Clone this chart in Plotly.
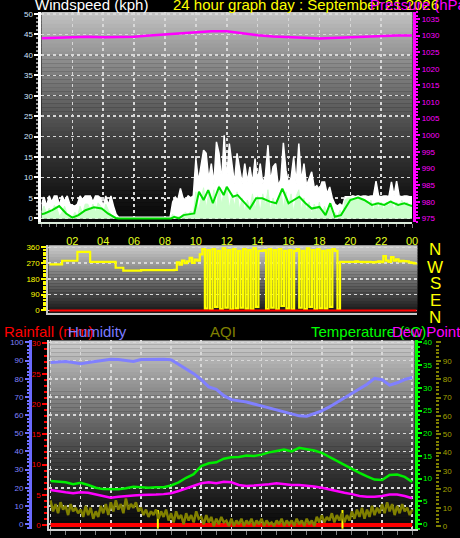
import plotly.graph_objects as go

W, H = 460, 538
def fx(p): return p / W
def fy(p): return 1 - p / H

FONT = "Liberation Sans, Arial, sans-serif"

# ---------------- data ----------------
step_min = 10
wind_hours = [i * step_min / 60 for i in range(145)]

gust = [
    3.5, 5.2, 3.0, 5.5, 4.0, 5.5,
    5.5, 3.2, 5.5, 4.2, 5.5, 3.5,
    3.2, 3.0, 3.5, 5.5, 4.5, 5.5,
    5.5, 5.5, 4.0, 5.5, 5.5, 5.0,
    3.0, 5.5, 3.2, 5.5, 3.0, 1.0,
    0.3, 0.3, 0.3, 0.3, 0.3, 0.3,
    0.3, 0.3, 0.3, 0.3, 0.3, 0.3,
    0.3, 0.3, 0.3, 0.3, 0.3, 0.3,
    0.3, 0.3, 0.3, 4.0, 5.2, 4.5,
    7.3, 5.0, 4.5, 5.5, 5.0, 5.5,
    14.6, 9.0, 12.6, 16.7, 15.9, 9.5,
    13.4, 8.5, 18.7, 15.9, 9.0, 20.3,
    9.5, 18.3, 13.4, 8.5, 15.9, 11.8,
    8.5, 13.4, 9.0, 12.6, 8.5, 14.6,
    9.0, 13.4, 8.5, 10.5, 17.9, 9.0,
    12.6, 13.4, 8.0, 9.5, 18.5, 11.8,
    8.5, 10.0, 15.0, 8.5, 18.3, 9.0,
    13.4, 8.0, 10.0, 11.4, 7.5, 8.0,
    7.0, 8.9, 8.9, 6.0, 7.7, 5.0,
    3.5, 3.0, 3.5, 3.0, 5.3, 5.3,
    5.3, 5.5, 5.3, 5.5, 5.3, 5.5,
    5.5, 5.3, 5.5, 5.5, 9.1, 5.5,
    5.3, 5.5, 5.5, 5.3, 8.9, 5.5,
    9.1, 5.5, 5.3, 5.5, 5.5, 5.3,
    5.3]

speed = [
    1.5, 3.0, 1.0, 2.5, 1.2, 3.2,
    2.5, 0.5, 1.5, 3.0, 1.0, 0.3,
    0.3, 1.5, 0.5, 3.0, 1.2, 3.5,
    3.5, 2.0, 3.5, 1.5, 3.8, 3.0,
    1.0, 3.5, 2.0, 1.0, 0.5, 0.2,
    0, 0, 0, 0, 0, 0,
    0, 0, 0, 0, 0, 0,
    0, 0, 0, 0, 0, 0,
    0, 0, 0, 1.0, 0.3, 0.5,
    0.3, 1.0, 1.5, 0.8, 1.8, 1.0,
    6.5, 2.0, 5.0, 7.5, 2.5, 6.0,
    3.0, 7.0, 2.0, 8.0, 3.5, 6.5,
    7.5, 2.5, 6.0, 3.0, 6.5, 2.0,
    5.0, 1.5, 4.5, 2.5, 6.0, 2.0,
    5.5, 1.5, 6.0, 3.0, 7.0, 2.0,
    5.0, 2.5, 4.5, 7.0, 2.5, 6.5,
    3.0, 6.0, 1.5, 5.5, 7.0, 2.0,
    5.0, 2.0, 4.0, 1.0, 3.5, 1.5,
    4.0, 0.5, 3.0, 1.0, 4.0, 0.5,
    1.5, 0.5, 2.0, 1.0, 4.5, 5.0,
    5.0, 4.8, 5.0, 4.5, 5.0, 4.8,
    4.5, 3.0, 4.5, 2.0, 4.0, 2.5,
    4.0, 2.0, 4.0, 3.0, 4.5, 2.0,
    4.0, 2.5, 4.5, 3.0, 4.0, 3.0,
    3.5]

avg_hours = [0, 0.2, 0.7, 1.15, 1.6, 2.0, 2.4, 2.85, 3.4, 3.9,
             4.3, 4.8, 5.0, 8.4, 8.6, 8.9, 9.2, 9.9, 10.2, 10.5,
             10.8, 11.1, 11.5, 11.8, 12.0, 12.4, 12.7, 13.1, 13.5, 13.9,
             14.3, 14.8, 15.2, 15.6, 16.0, 16.7, 17.1, 17.5, 18.0, 18.4,
             18.7, 19.0, 19.4, 20.0, 20.5, 20.9, 21.4, 21.8, 22.2, 22.6,
             23.1, 23.5, 24.0]
avg_speed = [1.0, 1.2, 2.0, 3.0, 1.2, 0.2, 0.8, 2.0, 2.7, 2.4,
             1.2, 0.1, 0, 0, 0.4, 0, 0.8, 1.2, 6.5, 4.5,
             6.9, 3.7, 7.7, 5.7, 7.7, 5.3, 5.7, 4.1, 2.4, 4.9,
             4.9, 4.1, 3.7, 7.3, 3.7, 5.3, 3.7, 2.4, 2.8, 0.8,
             3.7, 0.4, 0.8, 4.5, 5.1, 4.5, 3.3, 3.7, 3.3, 4.1,
             3.3, 3.7, 3.0]

press_hours = list(range(25))
pressure = [1029.2, 1029.3, 1029.6, 1029.6, 1029.5, 1029.5, 1029.6, 1030.0,
            1030.3, 1030.6, 1031.0, 1031.3, 1031.3, 1030.6, 1030.1, 1029.7,
            1029.4, 1029.3, 1029.1, 1029.3, 1029.6, 1029.8, 1029.9, 1030.0, 1030.0]

direction = [
    263, 263, 263, 263, 263, 284,
    284, 284, 284, 284, 284, 335,
    335, 335, 335, 335, 278, 278,
    278, 278, 278, 278, 278, 278,
    278, 278, 244, 244, 244, 227,
    227, 227, 227, 227, 227, 227,
    230, 230, 230, 230, 230, 230,
    230, 230, 230, 230, 230, 230,
    230, 232, 275, 262, 285, 270,
    280, 300, 272, 290, 285, 320,
    350, 10, 345, 5, 350, 20,
    340, 8, 355, 15, 345, 5,
    350, 12, 340, 15, 350, 10,
    345, 5, 355, 20, 340, 340,
    345, 8, 350, 15, 345, 5,
    350, 25, 340, 10, 345, 5,
    340, 350, 15, 340, 8, 355,
    20, 345, 5, 350, 12, 340,
    10, 345, 20, 350, 340, 5,
    278, 278, 278, 278, 278, 278,
    280, 278, 278, 276, 278, 278,
    276, 275, 278, 280, 276, 310,
    285, 278, 305, 285, 292, 280,
    284, 282, 280, 275, 272, 269,
    270]
dir_base_hours = [0, 24]
dir_base = [0, 0]

half_hours = [i * 0.5 for i in range(49)]
humidity = [88.9, 89.2, 89.5, 89.0, 88.3, 89.0, 89.6, 90.2, 90.7, 90.6,
            90.0, 89.5, 90.6, 90.7, 90.6, 90.7, 90.5, 88.0, 85.5, 82.8,
            79.5, 75.5, 74.2, 70.7, 68.5, 68.0, 67.2, 66.1, 65.0, 63.8,
            62.5, 61.5, 60.5, 59.6, 59.4, 60.8, 62.3, 64.5, 67.0, 69.5,
            72.1, 74.5, 77.0, 80.2, 79.5, 76.5, 77.8, 79.6, 80.7]
temperature = [9.5, 9.4, 9.2, 8.8, 9.1, 8.6, 8.0, 7.7, 7.6, 7.65,
               7.9, 8.2, 8.1, 8.0, 8.1, 8.1, 8.5, 9.2, 10.2, 11.0,
               12.8, 13.4, 13.6, 14.4, 14.7, 14.8, 15.1, 15.0, 15.3, 15.8,
               16.1, 16.4, 16.0, 16.8, 16.5, 16.2, 15.7, 14.8, 14.0, 13.1,
               12.2, 11.3, 10.5, 9.8, 9.7, 10.8, 10.9, 10.4, 9.3]
dewpoint = [7.5, 7.2, 7.0, 6.8, 7.0, 6.9, 6.5, 6.1, 5.8, 6.0,
            6.2, 6.3, 6.4, 6.4, 6.5, 6.6, 6.8, 7.3, 7.9, 8.4,
            9.0, 9.2, 9.0, 9.3, 9.2, 8.6, 8.4, 8.5, 8.6, 8.8,
            9.0, 8.8, 8.6, 8.6, 8.5, 8.3, 8.0, 7.6, 7.3, 6.9,
            6.6, 6.2, 6.0, 6.0, 6.2, 6.5, 6.5, 6.2, 5.7]

aqi = [
    14, 8, 12, 7, 13, 9,
    11, 6, 12, 8, 10, 7,
    9, 5, 11, 6, 10, 4,
    8, 5, 11, 7, 12, 6,
    13, 8, 14, 9, 12, 7,
    15, 9, 12, 10, 13, 8,
    10, 6, 9, 5, 8, 6,
    9, 4, 8, 5, 9, 3,
    7, 2, 8, 4, 6, 1,
    7, 3, 6, 2, 8, 4,
    5, 1, 6, 2, 5, 0,
    4, 1, 5, 2, 3, 0,
    4, 0, 3, 1, 4, 0,
    3, 1, 4, 0, 3, 1,
    4, 0, 3, 1, 2, 0,
    3, 1, 4, 0, 3, 1,
    3, 0, 4, 1, 3, 0,
    4, 1, 3, 0, 5, 2,
    6, 2, 5, 3, 7, 2,
    6, 3, 7, 2, 6, 3,
    8, 4, 9, 5, 10, 4,
    9, 5, 11, 6, 10, 7,
    12, 7, 13, 8, 12, 6,
    11, 7, 12, 8, 10, 6,
    9]

rain_hours = [0, 24]
rainfall = [0, 0]

sun_hours = [7.12, 19.37]   # sunrise / sunset markers
sun_low, sun_high = -0.6, 2.5

x_tick_hours = [2, 4, 6, 8, 10, 12, 14, 16, 18, 20, 22, 24]
x_tick_text = ["02", "04", "06", "08", "10", "12", "14", "16", "18", "20", "22", "00"]
aqi_ticks = [0, 10, 20, 30, 40, 50, 60, 70, 80, 90, 100]
aqi_tick_text = ["0", "10", "20", "30", "40", "50", "60", "70", "80", "90", ""]
compass_letters = ["N", "W", "S", "E", "N"]

# ---------------- figure ----------------
fig = go.Figure()

# wind panel
fig.add_trace(go.Scatter(x=wind_hours, y=gust, mode="lines", fill="tozeroy",
                         fillcolor="#ffffff", line=dict(color="#ffffff", width=1.5),
                         xaxis="x", yaxis="y", hoverinfo="skip"))
fig.add_trace(go.Scatter(x=wind_hours, y=speed, mode="lines", fill="tozeroy",
                         fillcolor="#ccffcc", line=dict(color="#ccffcc", width=1),
                         xaxis="x", yaxis="y", hoverinfo="skip"))
fig.add_trace(go.Scatter(x=avg_hours, y=avg_speed, mode="lines",
                         line=dict(color="#00dd00", width=2),
                         xaxis="x", yaxis="y", hoverinfo="skip"))
fig.add_trace(go.Scatter(x=press_hours, y=pressure, mode="lines",
                         line=dict(color="#ff00ff", width=2.5),
                         xaxis="x", yaxis="y2", hoverinfo="skip"))

# direction panel
fig.add_trace(go.Scatter(x=wind_hours, y=direction, mode="lines",
                         line=dict(color="#ffff00", width=2.2, shape="hv"),
                         xaxis="x3", yaxis="y3", hoverinfo="skip"))
fig.add_trace(go.Scatter(x=dir_base_hours, y=dir_base, mode="lines",
                         line=dict(color="#ff0000", width=2),
                         xaxis="x3", yaxis="y3", hoverinfo="skip"))

# bottom panel
fig.add_trace(go.Scatter(x=half_hours, y=humidity, mode="lines",
                         line=dict(color="#8080ff", width=3),
                         xaxis="x4", yaxis="y4", hoverinfo="skip"))
fig.add_trace(go.Scatter(x=rain_hours, y=rainfall, mode="lines",
                         line=dict(color="#ff0000", width=4),
                         xaxis="x4", yaxis="y5", hoverinfo="skip"))
sx, sy = [], []
for h in sun_hours:
    sx += [h, h, None]
    sy += [sun_low, sun_high, None]
fig.add_trace(go.Scatter(x=sx, y=sy, mode="lines",
                         line=dict(color="#ffff00", width=2),
                         xaxis="x4", yaxis="y5", hoverinfo="skip"))
fig.add_trace(go.Scatter(x=half_hours, y=temperature, mode="lines",
                         line=dict(color="#00ee00", width=2.5),
                         xaxis="x4", yaxis="y6", hoverinfo="skip"))
fig.add_trace(go.Scatter(x=half_hours, y=dewpoint, mode="lines",
                         line=dict(color="#ff00ff", width=2.5),
                         xaxis="x4", yaxis="y6", hoverinfo="skip"))
fig.add_trace(go.Scatter(x=wind_hours, y=aqi, mode="lines",
                         line=dict(color="#808000", width=2.5),
                         xaxis="x4", yaxis="y7", hoverinfo="skip"))

# ---------------- background gradients ----------------
shapes = []
def gradient(x0, x1, y0, y1, top, bottom, gamma, n):
    for k in range(n):
        ya = y0 + (y1 - y0) * k / n
        yb = y0 + (y1 - y0) * (k + 1) / n
        t = (k + 0.5) / n
        v = int(round(bottom + (top - bottom) * (1 - t) ** gamma))
        shapes.append(dict(type="rect", xref="paper", yref="paper",
                           x0=fx(x0), x1=fx(x1), y0=fy(yb) - 0.0005, y1=fy(ya),
                           fillcolor=f"rgb({v},{v},{v})", line=dict(width=0),
                           layer="below"))

gradient(42, 418, 10, 222, 195, 8, 1.3, 53)
gradient(49, 423, 245, 313, 205, 20, 1.0, 23)
gradient(50, 420, 341, 531, 205, 10, 1.3, 48)

grid = dict(showgrid=True, gridcolor="#d8d8d8", griddash="dot", gridwidth=1.5)
tickf = lambda c, s=8: dict(color=c, size=s, family=FONT)

fig.update_layout(
    width=W, height=H, margin=dict(l=0, r=0, t=0, b=0),
    paper_bgcolor="#000000", plot_bgcolor="rgba(0,0,0,0)",
    showlegend=False, shapes=shapes, hovermode=False,
    xaxis=dict(domain=[fx(42), fx(417.5)], range=[0, 24], anchor="y",
               tickvals=x_tick_hours, ticktext=x_tick_text,
               tickfont=tickf("#e0ff20", 11), ticks="outside", ticklen=4,
               tickcolor="#808080", tickwidth=1, ticklabelstandoff=3,
               minor=dict(ticks="outside", dtick=0.5, ticklen=3, tickcolor="#808080"),
               showline=True, linecolor="#dcecdc", linewidth=2, zeroline=False,
               **grid),
    yaxis=dict(domain=[fy(222), fy(10)], range=[-0.97, 50.49], anchor="x",
               tickvals=list(range(0, 51, 5)), tickfont=tickf("#d0e4ff"),
               ticks="outside", ticklen=4, tickwidth=2, tickcolor="#ffffff",
               minor=dict(ticks="outside", dtick=1, ticklen=2, tickcolor="#909090"),
               showline=True, linecolor="#ffffff", linewidth=3, zeroline=False,
               **grid),
    yaxis2=dict(overlaying="y", side="right", anchor="free", position=fx(419.5),
                range=[973.81, 1037.09], tickvals=list(range(975, 1036, 5)),
                tickfont=tickf("#ff00ff"), ticks="outside", ticklen=4, tickwidth=2,
                tickcolor="#ff00ff",
                minor=dict(ticks="outside", dtick=1, ticklen=2, tickcolor="#ff00ff"),
                showline=True, linecolor="#ff00ff", linewidth=3, showgrid=False,
                zeroline=False),
    xaxis3=dict(domain=[fx(49), fx(423)], range=[-0.0645, 24.0645], anchor="y3",
                showticklabels=False, ticks="", showgrid=False, zeroline=False,
                showline=True, linecolor="#c8c8c8", linewidth=2),
    yaxis3=dict(domain=[fy(313.3), fy(245)], range=[-14.8, 373.1], anchor="x3",
                tickvals=[0, 90, 180, 270, 360], tickfont=tickf("#ffff00"),
                ticks="outside", ticklen=5, tickwidth=2, tickcolor="#ffff00",
                minor=dict(ticks="outside", dtick=15, ticklen=3, tickcolor="#ffff00"),
                showline=True, linecolor="#c8c8c8", linewidth=2, zeroline=False,
                **grid),
    xaxis4=dict(domain=[fx(50), fx(420)], range=[-0.0786, 24.152], anchor="y5",
                dtick=2, tick0=0, showticklabels=False, ticks="outside", ticklen=4,
                tickcolor="#808080",
                minor=dict(ticks="outside", dtick=1, ticklen=4, tickcolor="#808080"),
                showline=True, linecolor="#d0d0d0", linewidth=2, zeroline=False,
                **grid),
    yaxis4=dict(domain=[fy(531), fy(341)], range=[-2.73, 101.09], anchor="free",
                position=fx(30.5), side="left",
                tickvals=list(range(0, 101, 10)), tickfont=tickf("#8080ff"),
                ticks="outside", ticklen=4, tickwidth=2, tickcolor="#7070ff",
                minor=dict(ticks="outside", dtick=2, ticklen=2, tickcolor="#7070ff"),
                showline=True, linecolor="#6a6aff", linewidth=3, zeroline=False,
                **grid),
    yaxis5=dict(overlaying="y4", anchor="x4", side="left", range=[-0.656, 30.49],
                tickvals=list(range(0, 31, 5)), tickfont=tickf("#ff0000"),
                ticks="outside", ticklen=5, tickwidth=2, tickcolor="#ff0000",
                minor=dict(ticks="outside", dtick=1, ticklen=3, tickcolor="#ff0000"),
                showline=True, linecolor="#d0d0d0", linewidth=2, showgrid=False,
                zeroline=False),
    yaxis6=dict(overlaying="y4", anchor="x4", side="right", range=[-1.093, 40.44],
                tickvals=list(range(0, 41, 5)), tickfont=tickf("#00ff00"),
                ticks="outside", ticklen=4, tickwidth=2, tickcolor="#00ff00",
                minor=dict(ticks="outside", dtick=1, ticklen=2, tickcolor="#00ff00"),
                showline=True, linecolor="#00ff00", linewidth=3, showgrid=False,
                zeroline=False),
    yaxis7=dict(overlaying="y4", anchor="free", position=fx(441), side="right",
                range=[-1.62, 101.08], tickvals=aqi_ticks, ticktext=aqi_tick_text,
                tickfont=tickf("#a0a000"), ticks="outside", ticklen=5, tickwidth=2,
                tickcolor="#808000",
                minor=dict(ticks="outside", dtick=2, ticklen=3, tickcolor="#808000"),
                showline=False, showgrid=False, zeroline=False),
)

def label(text, x, y, color, size=15):
    fig.add_annotation(text=text, xref="paper", yref="paper", x=fx(x), y=fy(y),
                       xanchor="left", yanchor="middle", showarrow=False,
                       font=dict(color=color, size=size, family=FONT))

label("Windspeed (kph)", 33, 2.5, "#ffffff")
label("24 hour graph day : September 21 2026", 173, 2.5, "#ffff00")
label("Pressure (hPa)", 373, 2.5, "#ff00ff")
label("Rainfall (mm)", 2, 331.5, "#ff0000")
label("Humidity", 67, 331.5, "#7b7bff")
label("AQI", 211, 331.5, "#808000")
label("Temperature (°C)", 313, 331.5, "#00ff00")
label("Dew Point", 395, 331.5, "#ff00ff")

compass_y = [249, 267, 284, 301, 318]
for letter, yy in zip(compass_letters, compass_y):
    fig.add_annotation(text=letter, xref="paper", yref="paper", x=fx(441), y=fy(yy),
                       xanchor="center", yanchor="middle", showarrow=False,
                       font=dict(color="#ffff00", size=17, family=FONT))

fig.write_html("out.html",
               config={"displayModeBar": False, "staticPlot": True},
               post_script="document.body.style.margin='0';"
                           "document.body.style.background='#000';"
                           "document.body.style.overflow='hidden';")
